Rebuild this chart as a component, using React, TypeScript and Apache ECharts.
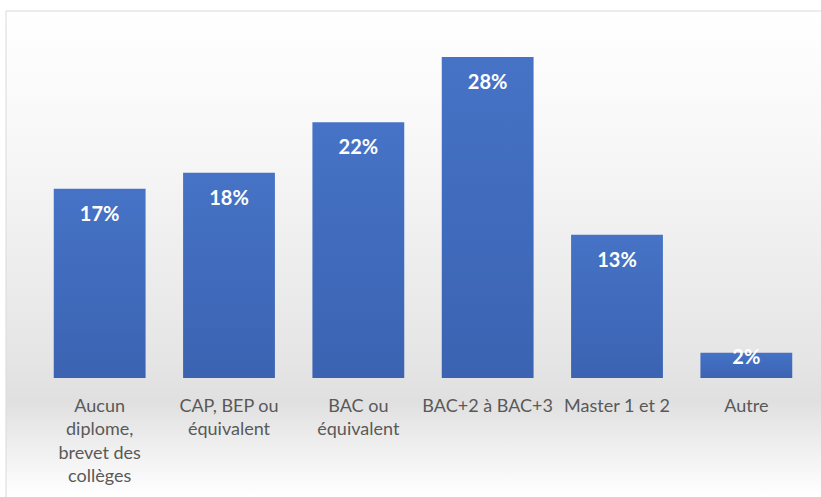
import React, { useEffect, useRef } from "react";
import * as echarts from "echarts";

const categories = [
  "Aucun\ndiplome,\nbrevet des\ncollèges",
  "CAP, BEP ou\néquivalent",
  "BAC ou\néquivalent",
  "BAC+2 à BAC+3",
  "Master 1 et 2",
  "Autre",
];
const values = [16.5, 17.9, 22.3, 28, 12.5, 2.2];
const valueLabels = ["17%", "18%", "22%", "28%", "13%", "2%"];

export default function App() {
  const ref = useRef<HTMLDivElement>(null);
  useEffect(() => {
    if (!ref.current) return;
    const chart = echarts.init(ref.current, undefined, { renderer: "svg" });
    chart.setOption({
      animation: false,
      backgroundColor: "#ffffff",
      graphic: [
        {
          type: "rect",
          z: -10,
          shape: { x: 6, y: 11, width: 830, height: 500 },
          style: {
            fill: new echarts.graphic.LinearGradient(0, 0, 0, 1, [
              { offset: 0, color: "#ffffff" },
              { offset: 0.25, color: "#f8f8f8" },
              { offset: 0.7, color: "#e5e5e5" },
              { offset: 0.78, color: "#e0e0e0" },
              { offset: 0.97, color: "#ffffff" },
              { offset: 1, color: "#ffffff" },
            ]),
            stroke: "#d9d9d9",
            lineWidth: 1,
          },
        },
      ],
      grid: { left: 35, right: 10, top: 34, bottom: 119, containLabel: false },
      xAxis: {
        type: "category",
        data: categories,
        axisLine: { show: false },
        axisTick: { show: false },
        axisLabel: {
          interval: 0,
          color: "#595959",
          fontFamily: "Lato",
          fontSize: 18,
          lineHeight: 23.5,
          margin: 17,
          verticalAlign: "top",
          padding: [-2, 0, 0, 0],
        },
      },
      yAxis: {
        type: "value",
        min: 0,
        max: 30,
        show: false,
        splitLine: { show: false },
      },
      series: [
        {
          type: "bar",
          barCategoryGap: "29%",
          data: values.map((v, i) => {
            const item: any = { value: v };
            if (i === values.length - 1) {
              item.label = { position: "insideTop", distance: -7 };
            }
            return item;
          }),
          itemStyle: {
            color: new echarts.graphic.LinearGradient(0, 0, 0, 1, [
              { offset: 0, color: "#4673c6" },
              { offset: 1, color: "#3b63b2" },
            ]),
          },
          label: {
            show: true,
            position: "insideTop",
            distance: 14,
            color: "#ffffff",
            fontFamily: "Lato",
            fontWeight: "bold",
            fontSize: 20,
            formatter: (p: any) => valueLabels[p.dataIndex],
          },
        },
      ],
    });
    return () => chart.dispose();
  }, []);
  return (
    <div
      ref={ref}
      style={{ position: "fixed", left: 0, top: 0, width: 821, height: 497 }}
    />
  );
}
